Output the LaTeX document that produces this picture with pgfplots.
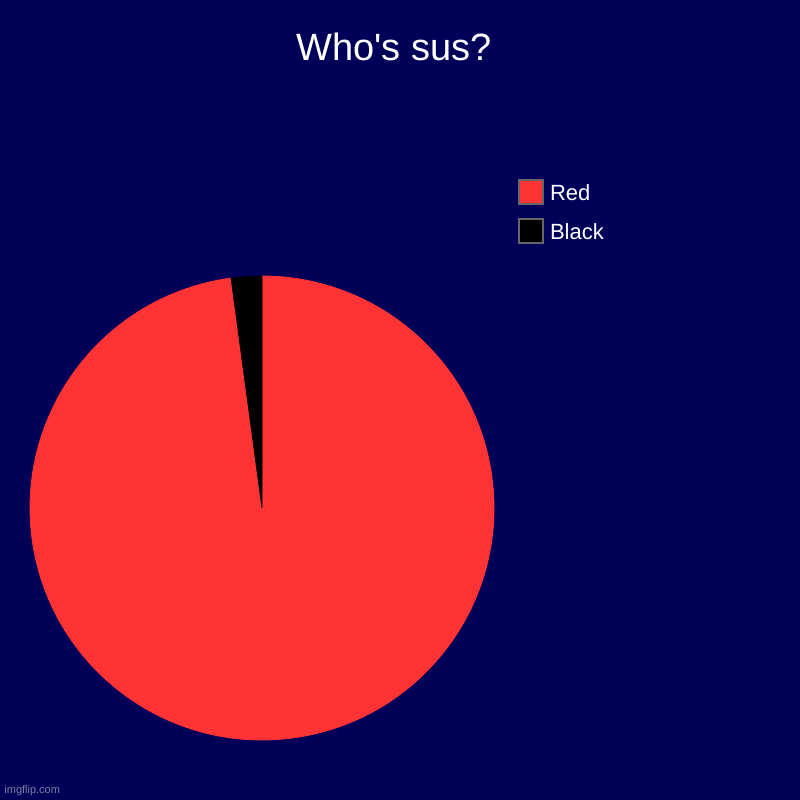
\documentclass[border=0pt]{standalone}
\usepackage{pgfplots}
\pgfplotsset{compat=1.18}
\usepackage{pgfplotstable}
\usepackage{fontspec}
\setmainfont{Liberation Sans}

\definecolor{bg}{RGB}{0,0,88}
\definecolor{slicered}{RGB}{255,51,51}
\definecolor{boxgray}{RGB}{102,102,102}
\definecolor{wmgray}{RGB}{128,128,160}

% one row per slice: centre (px), start/end angle (deg), share (%)
\pgfplotstableread{
x   y   start  end    share
262 292 97.66  450.0  97.87
}\redslice
\pgfplotstableread{
x   y   start  end    share
262 292 90.0   97.66  2.13
}\blackslice

\pgfplotsset{
  wedge/.style={
    only marks, scatter, mark=*,
    visualization depends on={\thisrow{start} \as \wstart},
    visualization depends on={\thisrow{end} \as \wend},
    scatter/@pre marker code/.code={%
      \fill[#1] (0,0) -- (\wstart:116pt)
        arc[start angle=\wstart, end angle=\wend, radius=116pt] -- cycle;
      \begin{scope}[opacity=0]},
    scatter/@post marker code/.code={\end{scope}},
    legend image code/.code={%
      \draw[draw=boxgray, line width=1pt, fill=#1]
        (0pt,-6pt) rectangle (12pt,6pt);},
  },
}

\begin{document}
\begin{tikzpicture}
\fill[bg] (0,0) rectangle (400pt,400pt);
\begin{axis}[
  at={(0,0)}, anchor=origin,
  width=400pt, height=400pt, scale only axis,
  xmin=0, xmax=800, ymin=0, ymax=800,
  hide axis, clip=false,
  legend style={at={(axis cs:518,621)}, anchor=north west,
    draw=none, fill=none, text=white, inner sep=0pt, outer sep=0pt,
    font=\fontsize{11}{13}\selectfont,
    row sep=6.5pt,
    nodes={inner sep=0pt, text height=8.5pt, text depth=0pt, minimum height=12pt}},
  legend cell align=left,
]
\addplot[wedge=slicered] table[x=x, y=y] {\redslice};
\addlegendentry{\hspace{3pt}Red}
\addplot[wedge=black] table[x=x, y=y] {\blackslice};
\addlegendentry{\hspace{3pt}Black}

\node[anchor=base, text=white, font=\fontsize{19}{23}\selectfont]
  at (axis cs:394,739) {Who\textquotesingle s sus?};
\node[anchor=base west, text=wmgray, font=\fontsize{5.5}{6.5}\selectfont, inner sep=0pt]
  at (axis cs:4,6) {imgflip.com};
\end{axis}
\end{tikzpicture}
\end{document}
